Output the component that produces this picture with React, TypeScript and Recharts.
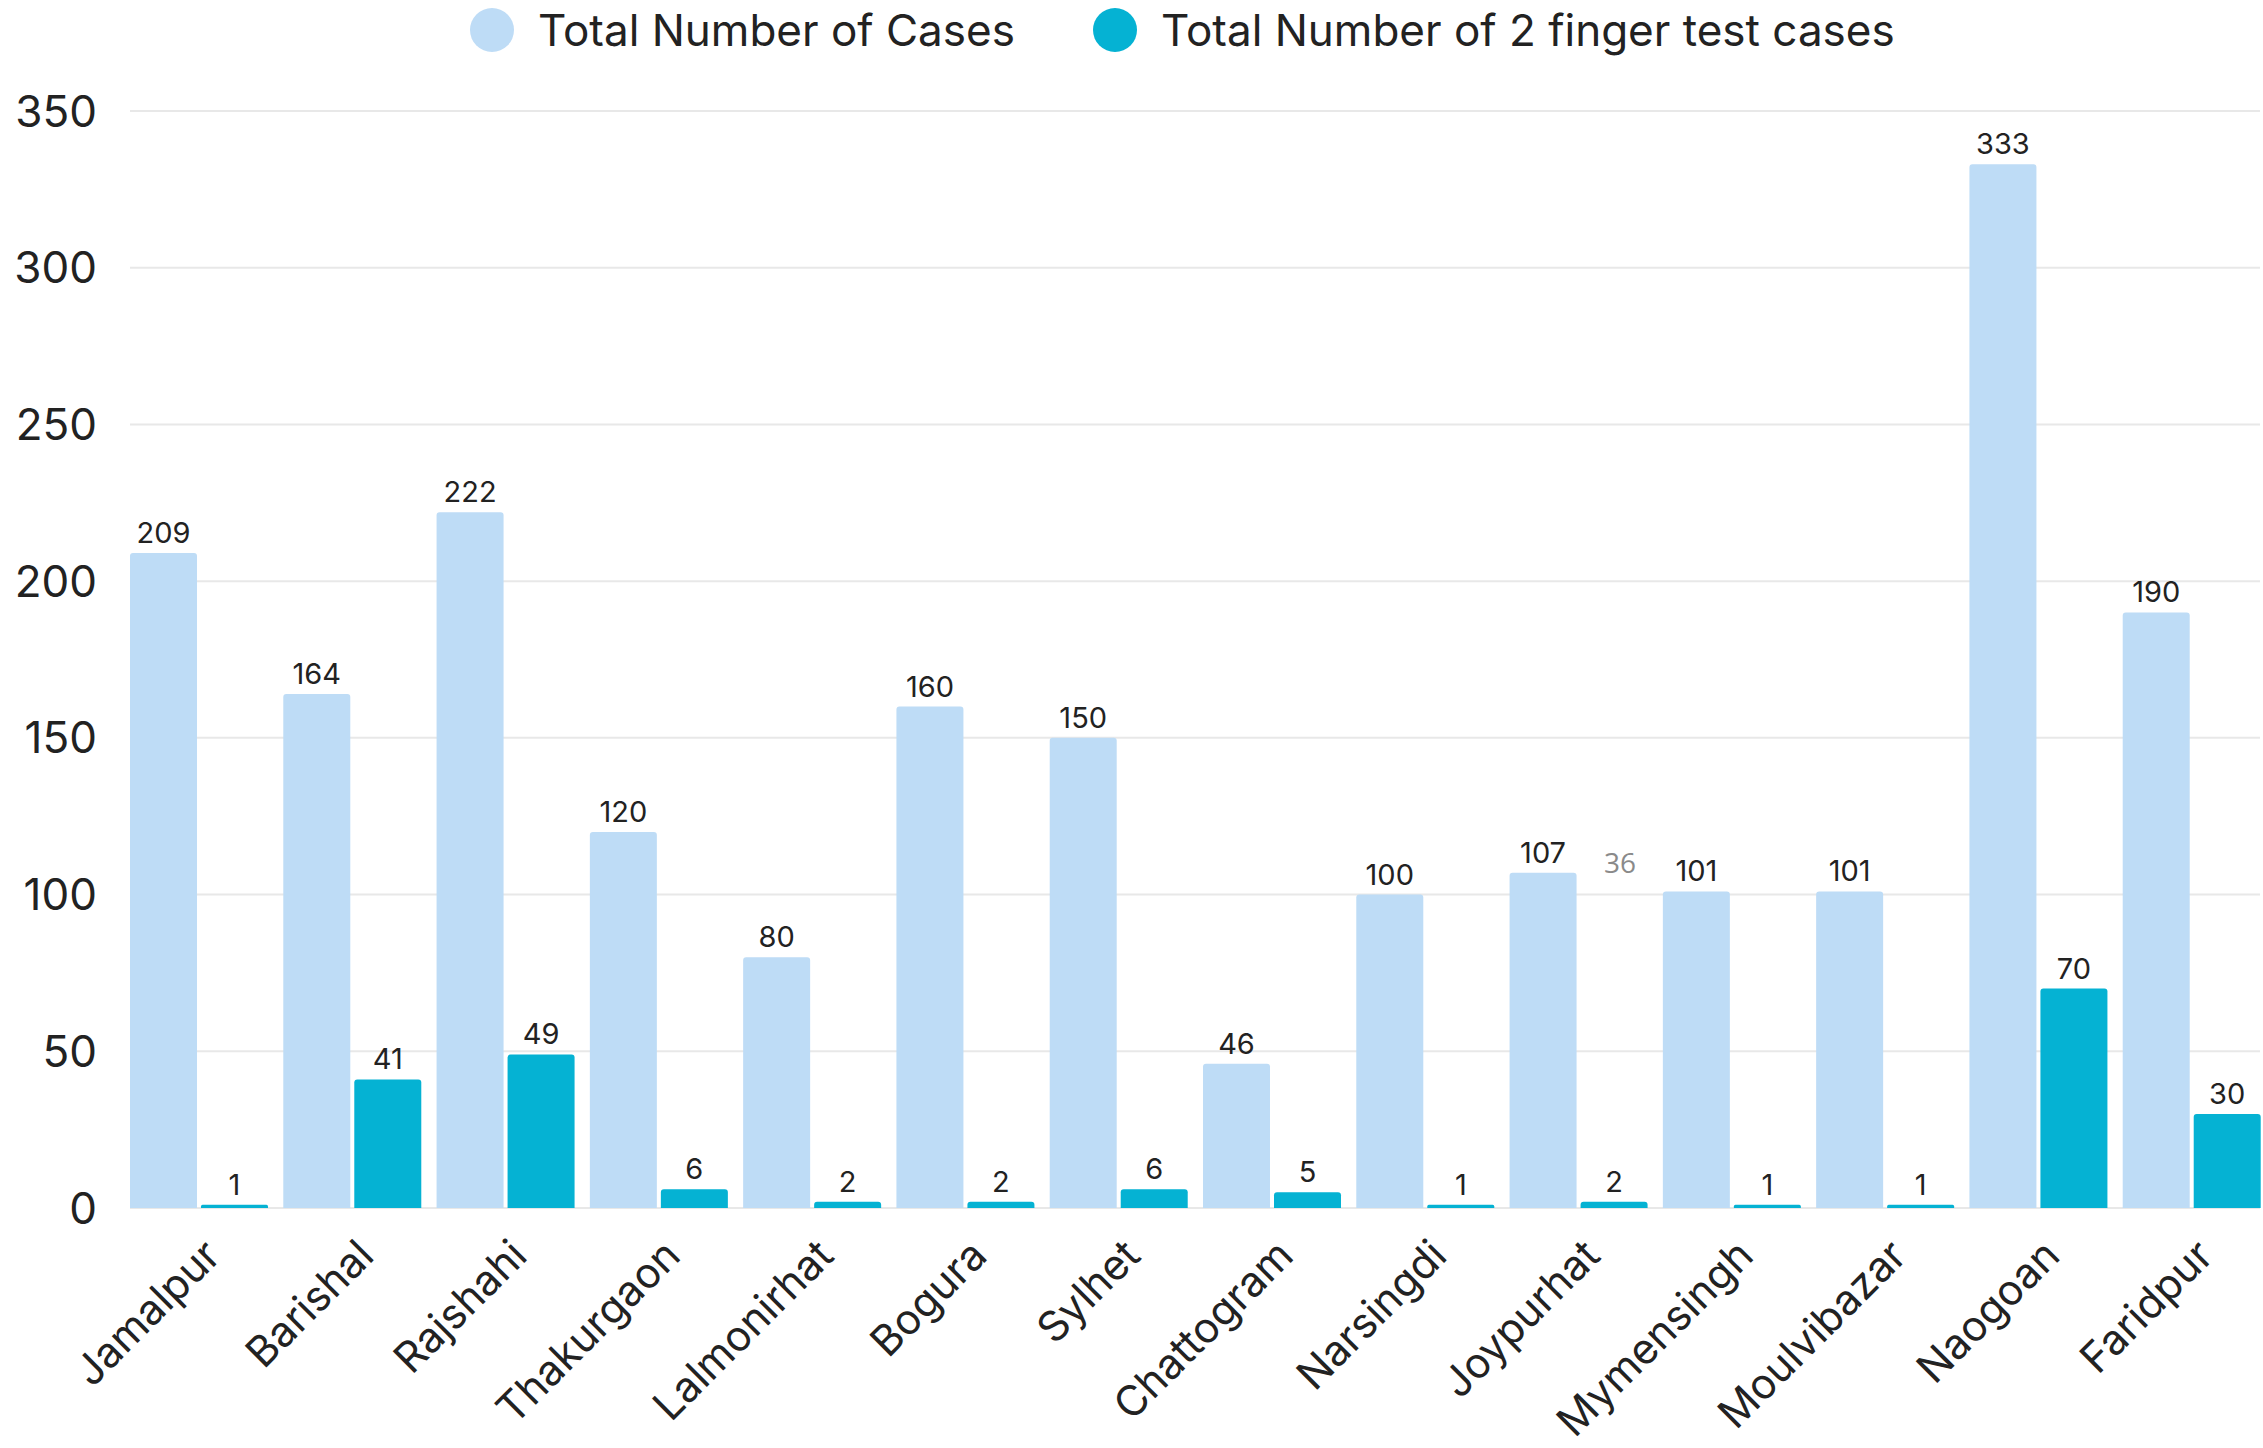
import { Bar, BarChart, CartesianGrid, LabelList, XAxis, YAxis } from 'recharts';

const INK = '#222222';
const GRID = '#e8e8e8';
const LIGHT = '#bedcf6';
const TEAL = '#05b2d3';
const FONT = 'Inter, "Noto Sans", sans-serif';

const districts = [
  'Jamalpur',
  'Barishal',
  'Rajshahi',
  'Thakurgaon',
  'Lalmonirhat',
  'Bogura',
  'Sylhet',
  'Chattogram',
  'Narsingdi',
  'Joypurhat',
  'Mymensingh',
  'Moulvibazar',
  'Naogoan',
  'Faridpur',
];
const totalCases = [209, 164, 222, 120, 80, 160, 150, 46, 100, 107, 101, 101, 333, 190];
const fingerTestCases = [1, 41, 49, 6, 2, 2, 6, 5, 1, 2, 1, 1, 70, 30];
const yTicks = [0, 50, 100, 150, 200, 250, 300, 350];

const data = districts.map((name, i) => ({
  name,
  total: totalCases[i],
  finger: fingerTestCases[i],
}));

function XTick({ x, y, payload }: any) {
  const ax = x + 24;
  const ay = y + 50;
  return (
    <text
      x={ax}
      y={ay}
      transform={`rotate(-45, ${ax}, ${ay})`}
      textAnchor="end"
      fontSize={42}
      fontFamily={FONT}
      fill={INK}
    >
      {payload.value}
    </text>
  );
}

function LegendItem({ left, color, label }: { left: number; color: string; label: string }) {
  return (
    <div style={{ position: 'absolute', left, top: 8, display: 'flex', alignItems: 'center', height: 44 }}>
      <span style={{ width: 44, height: 44, borderRadius: '50%', background: color, marginRight: 24 }} />
      <span style={{ fontSize: 44, color: INK, whiteSpace: 'nowrap', lineHeight: 1 }}>{label}</span>
    </div>
  );
}

export default function App() {
  return (
    <div style={{ position: 'relative', width: 2263, height: 1448, fontFamily: FONT, background: '#fff' }}>
      <style>{'body { margin: 0; }'}</style>
      <LegendItem left={470} color={LIGHT} label="Total Number of Cases" />
      <LegendItem left={1093} color={TEAL} label="Total Number of 2 finger test cases" />
      <BarChart
        width={2263}
        height={1448}
        data={data}
        margin={{ top: 111, right: 3, bottom: 40, left: 0 }}
        barCategoryGap={8}
        barGap={4}
      >
        <CartesianGrid stroke={GRID} strokeWidth={2} vertical={false} />
        <XAxis
          dataKey="name"
          interval={0}
          axisLine={false}
          tickLine={false}
          tickSize={0}
          tickMargin={0}
          height={200}
          padding={{ left: -8, right: -8 }}
          tick={<XTick />}
        />
        <YAxis
          domain={[0, 350]}
          ticks={yTicks}
          axisLine={false}
          tickLine={false}
          tickSize={0}
          tickMargin={33}
          width={130}
          tick={{ fontSize: 44, fill: INK, fontFamily: FONT }}
        />
        <Bar dataKey="total" fill={LIGHT} radius={[3, 3, 0, 0]} isAnimationActive={false}>
          <LabelList dataKey="total" position="top" offset={10} fontSize={29} fill={INK} fontFamily={FONT} />
        </Bar>
        <Bar dataKey="finger" fill={TEAL} radius={[3, 3, 0, 0]} isAnimationActive={false}>
          <LabelList dataKey="finger" position="top" offset={10} fontSize={29} fill={INK} fontFamily={FONT} />
        </Bar>
      </BarChart>
      <div
        style={{
          position: 'absolute',
          left: 1604,
          top: 848,
          fontSize: 28,
          lineHeight: 1,
          color: '#8a8a8a',
          fontFamily: '"Open Sans", sans-serif',
        }}
      >
        36
      </div>
    </div>
  );
}
